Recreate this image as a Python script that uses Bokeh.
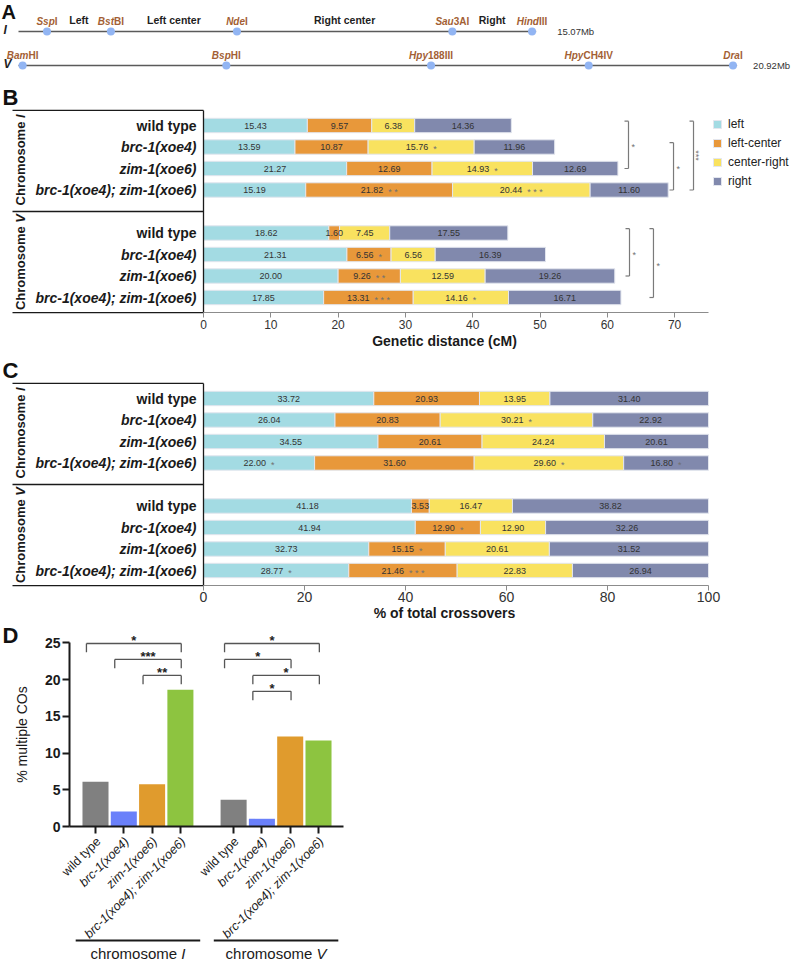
import math
from bokeh.plotting import figure
from bokeh.models import Range1d, LinearAxis, FixedTicker, Legend, LegendItem
from bokeh.layouts import column
from bokeh.embed import file_html
from bokeh.resources import INLINE
from bokeh.core.properties import value

FONT = "Liberation Sans"
F = value(FONT)

# ---------------- Panel A data ----------------
chromosomes = ["I", "V"]
chrom_length_mb = [15.07, 20.92]
sites_I = ["SspI", "BstBI", "NdeI", "Sau3AI", "HindIII"]
sites_I_mb = [0.83, 2.69, 6.36, 12.63, 14.95]
sites_V = ["BamHI", "BspHI", "Hpy188III", "HpyCH4IV", "DraI"]
sites_V_mb = [0.12, 6.05, 12.01, 16.60, 20.80]
regions_I = ["Left", "Left center", "Right center", "Right"]

# ---------------- Panel B / C data ----------------
genotypes = ["wild type", "brc-1(xoe4)", "zim-1(xoe6)", "brc-1(xoe4); zim-1(xoe6)"]
intervals = ["left", "left-center", "center-right", "right"]
interval_colors = ["#a3dbe3", "#e8983a", "#f9e25f", "#8189ad"]

cm_chrI = [[15.43, 9.57, 6.38, 14.36],
           [13.59, 10.87, 15.76, 11.96],
           [21.27, 12.69, 14.93, 12.69],
           [15.19, 21.82, 20.44, 11.60]]
cm_chrV = [[18.62, 1.60, 7.45, 17.55],
           [21.31, 6.56, 6.56, 16.39],
           [20.00, 9.26, 12.59, 19.26],
           [17.85, 13.31, 14.16, 16.71]]
cm_sig_chrI = [["", "", "", ""], ["", "", "*", ""], ["", "", "*", ""], ["", "**", "***", ""]]
cm_sig_chrV = [["", "", "", ""], ["", "*", "", ""], ["", "**", "", ""], ["", "***", "*", ""]]
# (chromosome, genotype a, genotype b, bracket x in cM, label)
cm_brackets = [(0, 0, 2, 63.15, "*"), (0, 1, 3, 69.84, "*"), (0, 0, 3, 72.81, "***"),
               (1, 0, 2, 63.30, "*"), (1, 0, 3, 66.86, "*")]

pct_chrI = [[33.72, 20.93, 13.95, 31.40],
            [26.04, 20.83, 30.21, 22.92],
            [34.55, 20.61, 24.24, 20.61],
            [22.00, 31.60, 29.60, 16.80]]
pct_chrV = [[41.18, 3.53, 16.47, 38.82],
            [41.94, 12.90, 12.90, 32.26],
            [32.73, 15.15, 20.61, 31.52],
            [28.77, 21.46, 22.83, 26.94]]
pct_sig_chrI = [["", "", "", ""], ["", "", "*", ""], ["", "", "", ""], ["*", "", "*", "*"]]
pct_sig_chrV = [["", "", "", ""], ["", "*", "", ""], ["", "*", "", ""], ["*", "***", "", ""]]

# ---------------- Panel D data ----------------
multi_co_chrI = [6.1, 2.05, 5.75, 18.6]
multi_co_chrV = [3.65, 1.05, 12.25, 11.7]
genotype_colors = ["#808080", "#6a80fa", "#e09b2d", "#8dc440"]
# (chromosome, genotype a, genotype b, label)
multi_co_brackets = [(0, 0, 3, "*"), (0, 1, 3, "***"), (0, 2, 3, "**"),
                     (1, 0, 3, "*"), (1, 0, 2, "*"), (1, 1, 3, "*"), (1, 1, 2, "*")]

# ---------------- helpers ----------------
W_REG = {' ': 278, '%': 889, '(': 333, ')': 333, '*': 389, '-': 333, '.': 278, ';': 278,
         'A': 667, 'B': 667, 'C': 722, 'D': 722, 'H': 722, 'I': 278, 'M': 833, 'N': 722,
         'O': 778, 'S': 667, 'V': 667, 'a': 556, 'b': 556, 'c': 500, 'd': 556, 'e': 556,
         'f': 278, 'g': 556, 'h': 556, 'i': 222, 'l': 222, 'm': 833, 'n': 556, 'o': 556,
         'p': 556, 'r': 333, 's': 500, 't': 278, 'u': 556, 'v': 500, 'w': 722, 'x': 500,
         'y': 500, 'z': 500}
W_BOLD = {' ': 278, '%': 889, '(': 333, ')': 333, '*': 389, '-': 333, '.': 278, ';': 333,
          'A': 722, 'B': 722, 'C': 722, 'D': 722, 'H': 722, 'I': 278, 'M': 833, 'N': 722,
          'O': 778, 'S': 667, 'V': 667, 'a': 556, 'b': 611, 'c': 556, 'd': 611, 'e': 556,
          'f': 333, 'g': 611, 'h': 611, 'i': 278, 'l': 278, 'm': 889, 'n': 611, 'o': 611,
          'p': 611, 'r': 389, 's': 556, 't': 333, 'u': 611, 'v': 556, 'w': 778, 'x': 556,
          'y': 556, 'z': 500}


def tw(s, size, bold=False):
    t = W_BOLD if bold else W_REG
    return sum(t.get(c, 556) for c in s) * size / 1000.0


def split_site(name):
    j = 1
    while j < len(name) and name[j].islower():
        j += 1
    return name[:j], name[j:]


def new_fig(w, h, xr, yr):
    return figure(width=w, height=h, x_range=xr, y_range=yr, title=None,
                  toolbar_location=None, output_backend="svg", min_border=0,
                  outline_line_color=None, x_axis_type=None, y_axis_type=None,
                  background_fill_color="white", border_fill_color="white")


# =============== Panel A ===============
WA, HA = 792, 76
KA = 34.35         # px per Mb
XA0 = 18.0         # px of 0 Mb
RA = 34.0          # px between chromosome rows
YA0 = 31.0         # px of chromosome I line
pa = new_fig(WA, HA, Range1d(-XA0 / KA, (WA - XA0) / KA), Range1d((HA - YA0) / RA, -YA0 / RA))
rows_a = list(range(len(chromosomes)))
pa.segment(x0=[0] * len(rows_a), y0=rows_a, x1=chrom_length_mb, y1=rows_a,
           line_color="#5a5a5a", line_width=1.6)
site_mb = sites_I_mb + sites_V_mb
site_row = [0] * len(sites_I_mb) + [1] * len(sites_V_mb)
pa.scatter(x=site_mb, y=site_row, size=8, fill_color="#92b5f3", line_color=None)

it_x, it_y, it_t, it_o, ro_t = [], [], [], [], []
for name, mb, row in zip(sites_I + sites_V, site_mb, site_row):
    a, b = split_site(name)
    wa_, wb_ = tw(a, 10, True), tw(b, 10, True)
    it_x.append(mb); it_y.append(row - 10.0 / RA); it_t.append(a); ro_t.append(b)
    it_o.append((wa_ - wb_) / 2.0)
pa.text(x=it_x, y=it_y, text=it_t, x_offset=it_o, text_font=F, text_font_size="10px",
        text_font_style="bold italic", text_color="#a35f35", text_align="right", text_baseline="middle")
pa.text(x=it_x, y=it_y, text=ro_t, x_offset=it_o, text_font=F, text_font_size="10px",
        text_font_style="bold", text_color="#a35f35", text_align="left", text_baseline="middle")
mids = [(u + v) / 2.0 for u, v in zip(sites_I_mb[:-1], sites_I_mb[1:])]
pa.text(x=mids, y=[-12.0 / RA] * len(mids), text=regions_I, text_font=F, text_font_size="10.5px",
        text_font_style="bold", text_color="#1e1e1e", text_align="center", text_baseline="middle")
pa.text(x=chrom_length_mb, y=rows_a, text=[f"{v:.2f}Mb" for v in chrom_length_mb], x_offset=[21, 16],
        text_font=F, text_font_size="9.5px", text_color="#333333", text_align="left", text_baseline="middle")
pa.text(x=[(3 - XA0) / KA] * 2, y=[r - 2.0 / RA for r in rows_a], text=chromosomes, text_font=F,
        text_font_size="12px", text_font_style="bold italic", text_color="#222222",
        text_align="left", text_baseline="middle")
pa.text(x=[(1 - XA0) / KA], y=[(11 - YA0) / RA], text=["A"], text_font=F, text_font_size="20px",
        text_font_style="bold", text_color="#111111", text_align="left", text_baseline="middle")


# =============== Panels B / C ===============
def stacked_panel(letter, vals, sigs, ppu, ticks, axis_end, tick_px, tick_standoff,
                  xlabel, xlabel_local, height, R0, letter_mid, chr_centres,
                  brackets=None, with_legend=False):
    W = 792
    ROW = 21.5
    Z = 203.0
    px = 1.0 / ppu
    p = new_fig(W, height, Range1d(-Z * px, (W - Z) * px), Range1d((height - R0) / ROW, -R0 / ROW))
    box_left = -(Z - 12) * px
    top, mid, bot = -0.7, 4.0, 8.7

    rend = []
    nx, ny, nt, no = [], [], [], []
    sx, sy, st, so = [], [], [], []
    for k in range(len(intervals)):
        ys, ls, rs = [], [], []
        for g in range(2):
            for i in range(len(genotypes)):
                row = g * 5 + i
                left = sum(vals[g][i][:k])
                v = vals[g][i][k]
                ys.append(row); ls.append(left); rs.append(left + v)
                lab = f"{v:.2f}"
                c = left + v / 2.0
                s = sigs[g][i][k]
                if s:
                    ss = " ".join(s)
                    nw, sw, gap = tw(lab, 9), tw(ss, 9), 5.0
                    tot = nw + gap + sw
                    no.append(-tot / 2 + nw / 2)
                    sx.append(c); sy.append(row + 2.4 / ROW); st.append(ss)
                    so.append(-tot / 2 + nw + gap)
                else:
                    no.append(0.0)
                nx.append(c); ny.append(row); nt.append(lab)
        r = p.hbar(y=ys, left=ls, right=rs, height=0.67, fill_color=interval_colors[k],
                   line_color="#e3e6ee", line_width=1)
        rend.append(r)
    p.text(x=nx, y=ny, text=nt, x_offset=no, text_font=F, text_font_size="9px",
           text_color="#333333", text_align="center", text_baseline="middle")
    if sx:
        p.text(x=sx, y=sy, text=st, x_offset=so, text_font=F, text_font_size="9px",
               text_color="#707070", text_align="left", text_baseline="middle")

    # genotype labels
    for i, gname in enumerate(genotypes):
        p.text(x=[-7 * px] * 2, y=[i, 5 + i], text=[gname] * 2, text_font=F, text_font_size="14px",
               text_font_style="bold" if i == 0 else "bold italic", text_color="#1a1a1a",
               text_align="right", text_baseline="middle")

    # box lines
    p.segment(x0=[box_left, box_left, 0, box_left], y0=[top, mid, top, bot],
              x1=[0, 0, 0, 0], y1=[top, mid, bot, bot], line_color="#1a1a1a", line_width=1.3)

    # rotated chromosome labels
    word = "Chromosome "
    xl = (20 - Z) * px
    for centre, numeral in zip(chr_centres, chromosomes):
        wt = tw(word + numeral, 13, True)
        wn = tw(numeral, 13, True)
        ysplit = centre + (-wt / 2 + wn) / ROW
        p.text(x=[xl], y=[ysplit], text=[word], angle=math.pi / 2, text_font=F, text_font_size="13px",
               text_font_style="bold", text_color="#1a1a1a", text_align="right", text_baseline="middle")
        p.text(x=[xl], y=[ysplit], text=[numeral], angle=math.pi / 2, text_font=F, text_font_size="13px",
               text_font_style="bold italic", text_color="#1a1a1a", text_align="left", text_baseline="middle")

    # panel letter
    p.text(x=[-Z * px + 2 * px], y=[(letter_mid - R0) / ROW], text=[letter], text_font=F,
           text_font_size="22px", text_font_style="bold", text_color="#111111",
           text_align="left", text_baseline="middle")

    # x axis
    ax = LinearAxis(fixed_location=bot, bounds=(0, axis_end), ticker=FixedTicker(ticks=ticks),
                    axis_line_color="#8c8c8c", axis_line_width=1,
                    major_tick_line_color="#8c8c8c", major_tick_out=5, major_tick_in=0,
                    minor_tick_out=0, minor_tick_in=0,
                    major_label_text_font=FONT, major_label_text_font_size=f"{tick_px}px",
                    major_label_text_color="#333333", major_label_standoff=tick_standoff)
    p.add_layout(ax, "below")
    p.text(x=[(444 - Z) * px], y=[(xlabel_local - R0) / ROW], text=[xlabel], text_font=F,
           text_font_size="14px", text_font_style="bold", text_color="#1a1a1a",
           text_align="center", text_baseline="middle")

    # significance brackets
    if brackets:
        bx0, by0, bx1, by1 = [], [], [], []
        lx, ly, lt, lx3, ly3, lt3 = [], [], [], [], [], []
        for g, a, b, xb, lab in brackets:
            yt = g * 5 + a - 0.2
            yb = g * 5 + b
            bx0 += [xb, xb - 4 * px, xb - 4 * px]
            by0 += [yt, yt, yb]
            bx1 += [xb, xb, xb]
            by1 += [yb, yt, yb]
            ymid = (yt + yb) / 2.0
            if len(lab) == 1:
                lx.append(xb + 3 * px); ly.append(ymid + 2.4 / ROW); lt.append(lab)
            else:
                lx3.append(xb + 2 * px); ly3.append(ymid); lt3.append(lab)
        p.segment(x0=bx0, y0=by0, x1=bx1, y1=by1, line_color="#7a7a7a", line_width=1.2)
        p.text(x=lx, y=ly, text=lt, text_font=F, text_font_size="9px", text_color="#707070",
               text_align="left", text_baseline="middle")
        if lx3:
            p.text(x=lx3, y=ly3, text=lt3, angle=-math.pi / 2, text_font=F, text_font_size="9px",
                   text_color="#707070", text_align="center", text_baseline="middle")

    if with_legend:
        legend = Legend(items=[LegendItem(label=lab, renderers=[r]) for lab, r in zip(intervals, rend)],
                        location=(712, height - (R0 - 1 - 9.5 + 76)), orientation="vertical",
                        padding=0, margin=0, spacing=0,
                        label_height=19, glyph_height=10, glyph_width=10, label_standoff=6,
                        label_text_font=FONT, label_text_font_size="12px", label_text_color="#222222",
                        border_line_color=None, background_fill_alpha=0)
        p.add_layout(legend)
    return p


pb = stacked_panel("B", [cm_chrI, cm_chrV], [cm_sig_chrI, cm_sig_chrV], 6.73,
                   [0, 10, 20, 30, 40, 50, 60, 70], 75.0, 12, 2,
                   "Genetic distance (cM)", 264, 276, 49.0, 20.5, [1.6, 6.35],
                   brackets=cm_brackets, with_legend=True)
pc = stacked_panel("C", [pct_chrI, pct_chrV], [pct_sig_chrI, pct_sig_chrV], 5.05,
                   [0, 20, 40, 60, 80, 100], 100.0, 14, 1,
                   "% of total crossovers", 260, 269, 46.0, 18, [1.6, 6.35])

# =============== Panel D ===============
WD, HD = 360, 341
PXX, PXY = 28.3, 7.35
XB1 = 95.0     # px of first bar centre
Y0 = 205.0     # local px of y = 0
pd_ = new_fig(WD, HD, Range1d(1 - XB1 / PXX, 1 + (WD - XB1) / PXX), Range1d(-(HD - Y0) / PXY, Y0 / PXY))
group_gap = 0.88
bar_x = [1 + g * (len(genotypes) + group_gap) + i for g in range(2) for i in range(len(genotypes))]
bar_top = multi_co_chrI + multi_co_chrV
pd_.vbar(x=bar_x, top=bar_top, bottom=0, width=0.92, fill_color=genotype_colors * 2, line_color=None)

y_axis_x = 1 - (XB1 - 69) / PXX
x_axis_end = 1 + (343 - XB1) / PXX
yax = LinearAxis(fixed_location=y_axis_x, bounds=(0, 25), ticker=FixedTicker(ticks=[0, 5, 10, 15, 20, 25]),
                 axis_line_color="#1a1a1a", axis_line_width=2, major_tick_line_color="#1a1a1a",
                 major_tick_line_width=2, major_tick_out=7, major_tick_in=0, minor_tick_out=0, minor_tick_in=0,
                 major_label_text_font=FONT, major_label_text_font_size="14px", major_label_text_font_style="bold",
                 major_label_text_color="#1a1a1a", major_label_standoff=2,
                 axis_label="% multiple COs", axis_label_text_font=FONT, axis_label_text_font_size="14px",
                 axis_label_text_font_style="normal", axis_label_text_color="#1a1a1a", axis_label_standoff=12)
pd_.add_layout(yax, "left")
xax = LinearAxis(fixed_location=0, bounds=(y_axis_x, x_axis_end), ticker=FixedTicker(ticks=bar_x),
                 axis_line_color="#1a1a1a", axis_line_width=2, major_tick_line_color="#1a1a1a",
                 major_tick_line_width=2, major_tick_out=7, major_tick_in=0, minor_tick_out=0, minor_tick_in=0,
                 major_label_text_font_size="0px", major_label_text_alpha=0)
pd_.add_layout(xax, "below")

# rotated genotype labels
for i, gname in enumerate(genotypes):
    xs = [bar_x[i] + 3 / PXX, bar_x[4 + i] + 3 / PXX]
    pd_.text(x=xs, y=[-13 / PXY] * 2, text=[gname] * 2, angle=math.pi / 4, text_font=F,
             text_font_size="12.5px", text_font_style="normal" if i == 0 else "italic",
             text_color="#1a1a1a", text_align="right", text_baseline="middle")

# group underlines + labels
centres = [sum(bar_x[g * 4:(g + 1) * 4]) / 4.0 for g in range(2)]
y_under = -(319 - Y0) / PXY
pd_.segment(x0=[c - 2.2 for c in centres], x1=[c + 2.2 for c in centres], y0=[y_under] * 2, y1=[y_under] * 2,
            line_color="#1a1a1a", line_width=2)
y_glab = -(332 - Y0) / PXY
word = "chromosome "
for c, numeral in zip(centres, chromosomes):
    wt = tw(word + numeral, 15)
    wn = tw(numeral, 15)
    off = wt / 2 - wn
    pd_.text(x=[c], y=[y_glab], text=[word], x_offset=off, text_font=F, text_font_size="15px",
             text_color="#1a1a1a", text_align="right", text_baseline="middle")
    pd_.text(x=[c], y=[y_glab], text=[numeral], x_offset=off, text_font=F, text_font_size="15px",
             text_font_style="italic", text_color="#1a1a1a", text_align="left", text_baseline="middle")

# significance brackets
level0, dlevel, drop = 24.9, 2.17, 1.2
bx0, by0, bx1, by1, sx_, sy_, st_ = [], [], [], [], [], [], []
count = [0, 0]
for g, a, b, lab in multi_co_brackets:
    lev = level0 - dlevel * count[g]
    count[g] += 1
    xa = bar_x[g * 4 + a] - 0.32
    xb = bar_x[g * 4 + b] + 0.03
    bx0 += [xa, xa, xb]; by0 += [lev, lev - drop, lev - drop]
    bx1 += [xb, xa, xb]; by1 += [lev, lev, lev]
    sx_.append((xa + xb) / 2); sy_.append(lev + 3.0 / PXY); st_.append(lab)
pd_.segment(x0=bx0, y0=by0, x1=bx1, y1=by1, line_color="#555555", line_width=1.3)
pd_.text(x=sx_, y=sy_, text=st_, text_font=F, text_font_size="13px", text_font_style="bold",
         text_color="#222222", text_align="center", text_baseline="middle")

pd_.text(x=[1 - (XB1 - 2) / PXX], y=[(Y0 - 13.5) / PXY], text=["D"], text_font=F, text_font_size="22px",
         text_font_style="bold", text_color="#111111", text_align="left", text_baseline="middle")

layout = column(pa, pb, pc, pd_)
open("out.html", "w").write(file_html(layout, INLINE))
